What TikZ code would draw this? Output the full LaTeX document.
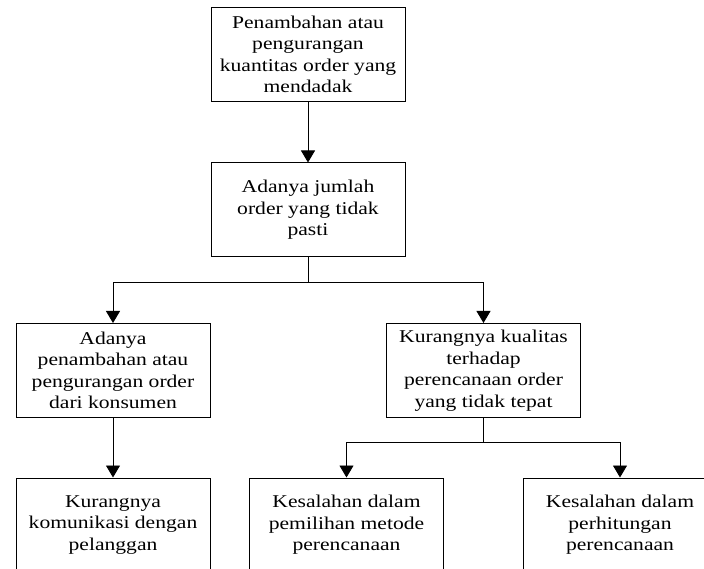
\documentclass[tikz,border=0pt]{standalone}
\usepackage{fontspec}
\setmainfont{Liberation Serif}[FakeStretch=1.2]
\usetikzlibrary{arrows.meta}
\begin{document}
\begin{tikzpicture}[x=1pt,y=-1pt,
  box/.style={draw,fill=white,line width=1pt,inner sep=0pt,align=center,
    minimum width=194pt,minimum height=94pt,
    font=\fontsize{18}{21.5}\selectfont},
  arr/.style={line width=0.9pt,-{Triangle[width=14pt,length=12pt]}},
  ln/.style={line width=0.9pt}]
\useasboundingbox (0,0) rectangle (704,569);
\clip (0,0) rectangle (704,569);
\node[box] (b1) at (308,54.5) {Penambahan atau\\pengurangan\\kuantitas order yang\\mendadak};
\node[box] (b2) at (308,210) {Adanya jumlah\\order yang tidak\\pasti};
\node[box] (b3) at (113,370.5) {Adanya\\penambahan atau\\pengurangan order\\dari konsumen};
\node[box] (b4) at (483.5,370.5) {Kurangnya kualitas\\terhadap\\perencanaan order\\yang tidak tepat};
\node[box] (b5) at (113,525) {Kurangnya\\komunikasi dengan\\pelanggan};
\node[box] (b6) at (346.5,525) {Kesalahan dalam\\pemilihan metode\\perencanaan};
\node[box] (b7) at (620,525) {Kesalahan dalam\\perhitungan\\perencanaan};
\coordinate (j1) at (308,282);
\coordinate (j2) at (483.5,442);
\draw[arr] (b1) -- (b2);
\draw[ln] (b2.south) -- (j1);
\draw[arr] (j1) -| (b3.north);
\draw[arr] (j1) -| (b4.north);
\draw[arr] (b3) -- (b5);
\draw[ln] (b4.south) -- (j2);
\draw[arr] (j2) -| (b6.north);
\draw[arr] (j2) -| (b7.north);
\end{tikzpicture}
\end{document}
